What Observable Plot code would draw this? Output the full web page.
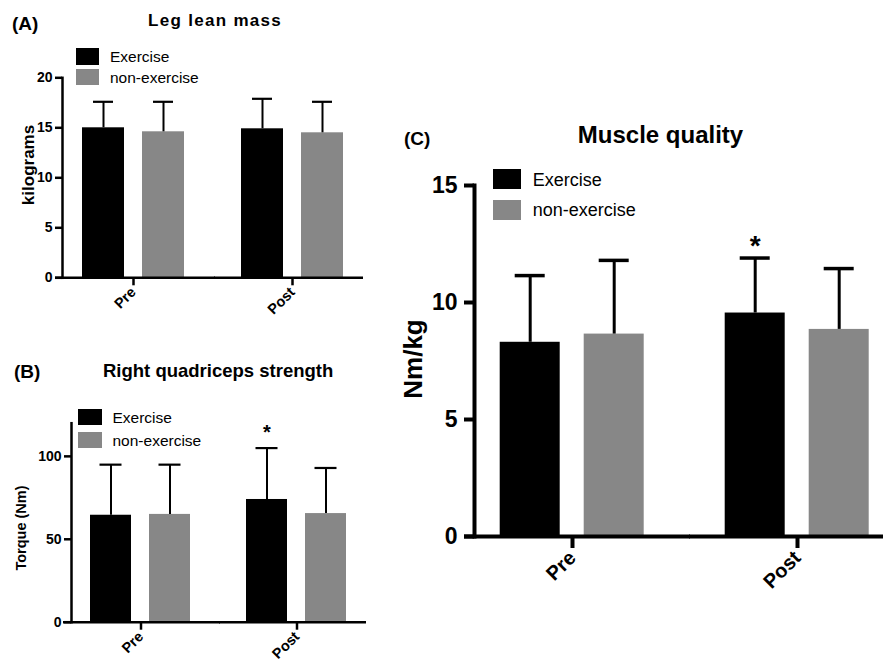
<!DOCTYPE html>
<html>
<head>
<meta charset="utf-8">
<script src="https://cdn.jsdelivr.net/npm/d3@7"></script>
<script src="https://cdn.jsdelivr.net/npm/@observablehq/plot@0.6"></script>
<style>
  html, body { margin: 0; padding: 0; background: #fff; overflow: hidden; width: 883px; height: 667px; }
  #fig { position: relative; width: 883px; height: 667px; overflow: hidden; font-family: "Liberation Sans", Arial, sans-serif; color: #000; }
  .plotbox { position: absolute; }
  .plotbox svg { display: block; max-width: none !important; }
  .t { position: absolute; white-space: nowrap; line-height: 1; z-index: 2; }
  .sw { position: absolute; z-index: 2; }
</style>
</head>
<body>
<div id="fig"></div>
<script>
// ---------- data ----------
const groups = ["Pre", "Post"];
const series = ["Exercise", "non-exercise"];
const seriesColors = ["#000000", "#878787"];

// (A) Leg lean mass (kilograms): mean and SD (upper error bar)
const leanExerciseMean = [15.0, 14.9];
const leanExerciseSD = [2.6, 3.0];
const leanNonExerciseMean = [14.6, 14.5];
const leanNonExerciseSD = [3.0, 3.1];
const leanTicks = [0, 5, 10, 15, 20];
const leanSig = ["", ""];

// (B) Right quadriceps strength, Torque (Nm)
const torqueExerciseMean = [64.5, 74.0];
const torqueExerciseSD = [30.5, 31.0];
const torqueNonExerciseMean = [65.0, 65.5];
const torqueNonExerciseSD = [30.0, 27.5];
const torqueTicks = [0, 50, 100];
const torqueSig = ["", "*"];

// (C) Muscle quality, Nm/kg
const qualityExerciseMean = [8.3, 9.55];
const qualityExerciseSD = [2.85, 2.35];
const qualityNonExerciseMean = [8.65, 8.85];
const qualityNonExerciseSD = [3.15, 2.6];
const qualityTicks = [0, 5, 10, 15];
const qualitySig = ["", "*"];

// ---------- helpers ----------
function rows(exM, exSD, nonM, nonSD, sig) {
  const out = [];
  groups.forEach((g, i) => {
    out.push({group: g, series: series[0], mean: exM[i], hi: exM[i] + exSD[i], sig: sig[i]});
    out.push({group: g, series: series[1], mean: nonM[i], hi: nonM[i] + nonSD[i], sig: ""});
  });
  return out;
}

const FONT = "'Liberation Sans', Arial, sans-serif";
const fig = document.getElementById("fig");

function panel(data, L) {
  const svg = Plot.plot({
    width: L.width, height: L.height,
    marginLeft: L.ml, marginRight: 0, marginTop: L.mt, marginBottom: L.mb,
    style: {background: "transparent", color: "#000", fontFamily: FONT, overflow: "hidden", maxWidth: "none"},
    fx: {domain: groups, paddingInner: L.fxPad, paddingOuter: 0},
    x: {domain: series, paddingInner: L.xPadIn, paddingOuter: L.xPadOut, axis: null},
    y: {domain: L.yDomain},
    color: {domain: series, range: seriesColors},
    marks: [
      Plot.barY(data, {fx: "group", x: "series", y: "mean", fill: "series"}),
      Plot.ruleX(data, {fx: "group", x: "series", y1: "mean", y2: "hi", stroke: "#000", strokeWidth: L.ew}),
      Plot.tickY(data, {fx: "group", x: "series", y: "hi", stroke: "#000", strokeWidth: L.cw, insetLeft: L.capInset, insetRight: L.capInset}),
      Plot.text(data.filter(d => d.sig), {fx: "group", x: "series", y: "hi", text: "sig", dy: L.sigDy, fontSize: L.sigSize, fontWeight: "bold", fill: "#000"}),
      Plot.ruleY([0], {stroke: "#000", strokeWidth: L.aw, insetLeft: -L.extL, insetRight: -L.extR}),
      Plot.frame({anchor: "left", facetAnchor: "left", stroke: "#000", strokeWidth: L.aw}),
      Plot.axisY({ticks: L.ticks, tickFormat: d => String(d), tickSize: L.yts, tickPadding: L.ytp, strokeWidth: L.aw,
                  fontSize: L.tickFont, fontWeight: "bold", label: null}),
      Plot.axisFx({anchor: "bottom", tickSize: L.xts, tickPadding: L.xtp, tickRotate: -45, strokeWidth: L.aw,
                   fontSize: L.xFont, fontWeight: "bold", label: null})
    ]
  });
  const box = document.createElement("div");
  box.className = "plotbox";
  box.style.left = L.left + "px";
  box.style.top = L.top + "px";
  box.style.width = L.width + "px";
  box.style.height = L.height + "px";
  box.appendChild(svg);
  fig.appendChild(box);
}

function text(str, x, baseline, size, weight, opts = {}) {
  const d = document.createElement("div");
  d.className = "t";
  d.textContent = str;
  d.style.fontSize = size + "px";
  d.style.fontWeight = weight;
  d.style.top = (baseline - 0.8465 * size) + "px";
  d.style.left = x + "px";
  if (opts.center) d.style.transform = "translateX(-50%)";
  if (opts.ls) d.style.letterSpacing = opts.ls + "px";
  fig.appendChild(d);
}

function vtext(str, cx, cy, size) {
  const d = document.createElement("div");
  d.className = "t";
  d.textContent = str;
  d.style.fontSize = size + "px";
  d.style.fontWeight = "bold";
  d.style.left = cx + "px";
  d.style.top = cy + "px";
  d.style.transform = "translate(-50%, -50%) rotate(-90deg)";
  fig.appendChild(d);
}

function legend(x, tops, w, h, textX, baselines, size) {
  series.forEach((s, i) => {
    const sq = document.createElement("div");
    sq.className = "sw";
    sq.style.left = x + "px"; sq.style.top = tops[i] + "px";
    sq.style.width = w + "px"; sq.style.height = h + "px";
    sq.style.background = seriesColors[i];
    fig.appendChild(sq);
    text(s, textX, baselines[i], size, "normal");
  });
}

// ---------- panels ----------
panel(rows(leanExerciseMean, leanExerciseSD, leanNonExerciseMean, leanNonExerciseSD, leanSig), {
  left: 0, top: 0, width: 363, height: 320, ml: 62, mt: 77.3, mb: 42.7,
  fxPad: 0.107, xPadIn: 0.3, xPadOut: 0.333, yDomain: [0, 20], ticks: leanTicks,
  ew: 2, cw: 2.2, capInset: 11, aw: 2.5, extL: 7, extR: 11,
  yts: 7, ytp: 3, tickFont: 14, xts: 8, xtp: 4, xFont: 14.5, sigSize: 20, sigDy: -15
});

panel(rows(torqueExerciseMean, torqueExerciseSD, torqueNonExerciseMean, torqueNonExerciseSD, torqueSig), {
  left: 0, top: 320, width: 366, height: 347, ml: 70, mt: 102.7, mb: 45.3,
  fxPad: 0.11, xPadIn: 0.3, xPadOut: 0.32, yDomain: [0, 120], ticks: torqueTicks,
  ew: 2, cw: 2.2, capInset: 9.5, aw: 2.5, extL: 8, extR: 10,
  yts: 7, ytp: 3, tickFont: 14, xts: 8, xtp: 4, xFont: 14.5, sigSize: 20, sigDy: -15
});

panel(rows(qualityExerciseMean, qualityExerciseSD, qualityNonExerciseMean, qualityNonExerciseSD, qualitySig), {
  left: 380, top: 100, width: 516, height: 567, ml: 93.3, mt: 85, mb: 131,
  fxPad: 0.128, xPadIn: 0.29, xPadOut: 0.307, yDomain: [0, 15], ticks: qualityTicks,
  ew: 3, cw: 3.5, capInset: 15, aw: 4, extL: 10, extR: 20,
  yts: 10, ytp: 7, tickFont: 23,
  xts: 12, xtp: 6, xFont: 20, sigSize: 28, sigDy: -12
});

// ---------- titles, panel letters, axis titles, legends ----------
text("(A)", 12, 30, 19, "bold");
text("Leg lean mass", 148, 26, 17, "bold", {ls: 1.3});
vtext("kilograms", 28, 165, 17);
legend(76, [48, 68.5], 23, 16.5, 110, [61.7, 83], 15.5);

text("(B)", 14, 378, 19, "bold");
text("Right quadriceps strength", 103, 378, 18.5, "bold");
vtext("Torque (Nm)", 21, 527.5, 14.5);
legend(78, [409, 432], 24, 15.5, 112.5, [423, 446], 15.5);

text("(C)", 404, 145, 19, "bold");
text("Muscle quality", 660.5, 143.5, 24, "bold", {center: true});
vtext("Nm/kg", 413, 359, 26);
legend(492.7, [169.3, 200], 28, 20, 532.7, [186.7, 216.7], 18);
</script>
</body>
</html>
